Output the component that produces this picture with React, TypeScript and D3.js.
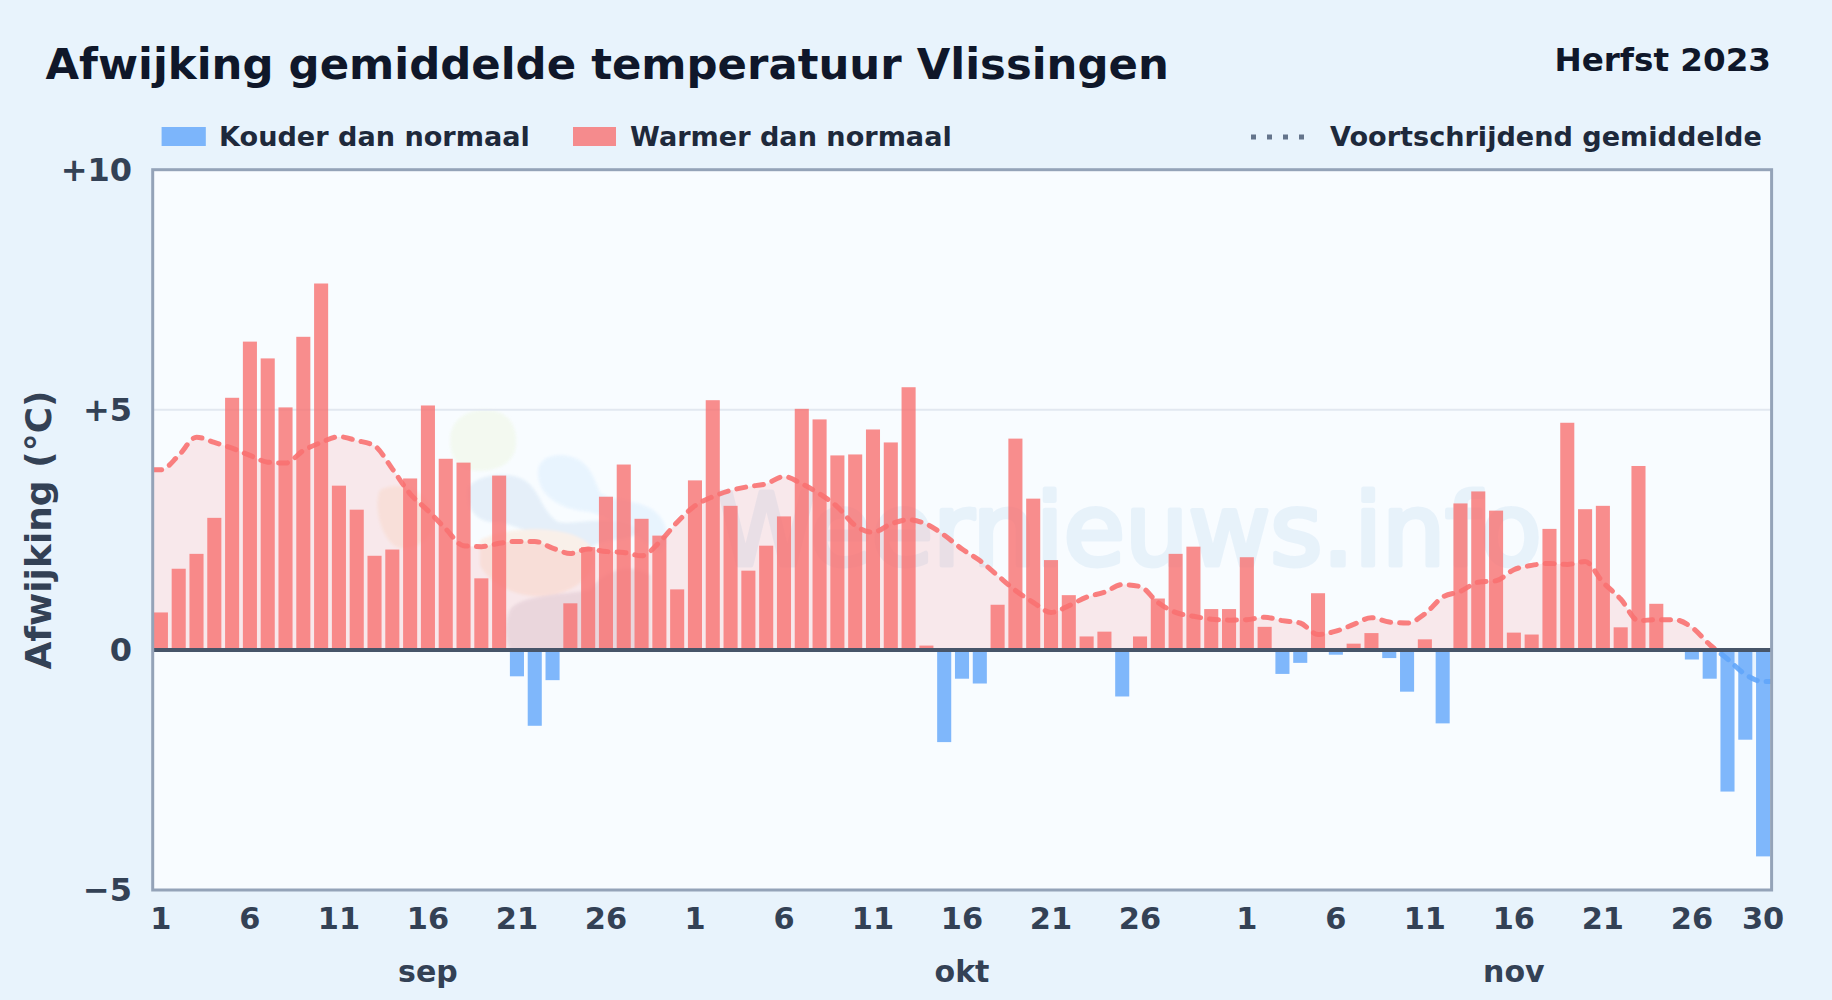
import React from "react";
import * as d3 from "d3";

const W = 1832, H = 1000;
const months = ["sep", "okt", "nov"];
const monthLengths = [30, 31, 30];
const tickDays = [1, 6, 11, 16, 21, 26];
const yTicks = [10, 5, 0, -5];

const sepValues = [0.78, 1.69, 2.0, 2.75, 5.25, 6.42, 6.07, 5.05, 6.52, 7.63, 3.42, 2.92, 1.96, 2.09, 3.57, 5.09, 3.98, 3.9, 1.49, 3.63, -0.55, -1.58, -0.63, 0.97, 2.14, 3.19, 3.86, 2.73, 2.38, 1.26];
const oktValues = [3.53, 5.2, 3.0, 1.65, 2.17, 2.78, 5.02, 4.8, 4.05, 4.07, 4.59, 4.32, 5.47, 0.09, -1.92, -0.6, -0.7, 0.94, 4.4, 3.15, 1.87, 1.14, 0.28, 0.38, -0.97, 0.28, 1.07, 2.0, 2.15, 0.85, 0.85];
const novValues = [1.93, 0.48, -0.5, -0.27, 1.18, -0.1, 0.13, 0.35, -0.17, -0.87, 0.22, -1.53, 3.05, 3.3, 2.9, 0.36, 0.32, 2.52, 4.73, 2.93, 3.0, 0.47, 3.83, 0.96, 0, -0.2, -0.6, -2.95, -1.87, -4.3];

const sepAvg = [3.75, 4.05, 4.43, 4.32, 4.2, 4.05, 3.91, 3.89, 4.15, 4.32, 4.44, 4.36, 4.25, 3.77, 3.25, 2.9, 2.52, 2.17, 2.15, 2.22, 2.26, 2.26, 2.12, 2.01, 2.1, 2.05, 2.03, 1.96, 2.24, 2.66];
const oktAvg = [3.0, 3.19, 3.32, 3.4, 3.46, 3.61, 3.46, 3.25, 2.98, 2.59, 2.45, 2.62, 2.71, 2.62, 2.39, 2.1, 1.86, 1.55, 1.24, 0.99, 0.78, 0.92, 1.1, 1.2, 1.36, 1.32, 0.99, 0.78, 0.7, 0.64, 0.62];
const novAvg = [0.63, 0.68, 0.61, 0.56, 0.32, 0.39, 0.53, 0.67, 0.58, 0.56, 0.75, 1.1, 1.22, 1.41, 1.44, 1.67, 1.76, 1.8, 1.78, 1.84, 1.41, 1.06, 0.61, 0.63, 0.63, 0.47, 0.11, -0.19, -0.51, -0.66];

const values = [...sepValues, ...oktValues, ...novValues];
const averages = [...sepAvg, ...oktAvg, ...novAvg];

const FONT = "'DejaVu Sans', sans-serif";
const plot = { left: 152.7, right: 1771.6, top: 169.7, bottom: 890 };

const x = d3.scaleBand<number>().domain(d3.range(values.length)).range([152, 1772]).paddingInner(0.21).paddingOuter(0.105);
const y = d3.scaleLinear().domain([-5, 10]).range([plot.bottom, plot.top]);
const cx = (i: number) => (x(i) as number) + x.bandwidth() / 2;

const indices = d3.range(averages.length);
const pts: [number, number][] = [
  [plot.left, y(averages[0])],
  ...indices.map((i): [number, number] => [cx(i), y(averages[i])]),
  [plot.right, y(averages[averages.length - 1])],
];
const lineGen = d3.line().curve(d3.curveMonotoneX);
const areaGen = d3.area<[number, number]>().x((d) => d[0]).y0(y(0)).y1((d) => d[1]).curve(d3.curveMonotoneX);

function monthOffset(m: number) {
  return d3.sum(monthLengths.slice(0, m));
}

const xTicks: { i: number; label: string }[] = [];
monthLengths.forEach((len, m) => {
  tickDays.forEach((d) => xTicks.push({ i: monthOffset(m) + d - 1, label: String(d) }));
});
xTicks.push({ i: values.length - 1, label: "30" });

function Logo() {
  return (
    <g filter="url(#soft)" opacity={0.95}>
      <path d="M450 440 C450 418 470 408 490 410 C510 412 518 428 516 446 C514 466 490 474 470 470 C456 466 450 456 450 440 Z" fill="#f3f9f0" />
      <path d="M538 470 C540 455 560 452 575 458 C590 464 594 478 600 492 C606 500 630 498 650 508 C668 518 672 540 660 552 C640 540 620 520 590 512 C560 510 536 495 538 470 Z" fill="#e8f4fe" />
      <path d="M468 490 C470 478 500 470 520 478 C540 486 540 510 558 522 C580 526 610 512 640 530 C630 545 600 535 590 550 C560 548 530 530 500 522 C478 525 466 510 468 490 Z" fill="#e4eff9" />
      <path d="M480 540 C510 525 570 525 590 545 C600 565 585 590 550 595 C520 600 490 585 480 565 Z" fill="#faf0e8" />
      <path d="M380 490 C400 480 425 490 432 510 C438 535 420 550 400 548 C384 545 372 510 380 490 Z" fill="#f9f2ea" />
      <path d="M510 610 C520 595 560 595 590 590 C600 575 625 560 650 575 L650 650 L510 650 C505 640 505 620 510 610 Z" fill="#e8e6ee" />
    </g>
  );
}

export default function App() {
  const line = lineGen(pts) as string;
  const area = areaGen(pts) as string;
  return (
    <svg width={W} height={H} viewBox={`0 0 ${W} ${H}`} style={{ position: "absolute", left: 0, top: 0, display: "block" }} fontFamily={FONT} fontWeight={700}>
      <defs>
        <filter id="soft" x="-10%" y="-10%" width="120%" height="120%">
          <feGaussianBlur stdDeviation="1.5" />
        </filter>
        <clipPath id="plotClip">
          <rect x={plot.left} y={plot.top} width={plot.right - plot.left} height={plot.bottom - plot.top} />
        </clipPath>
        <clipPath id="above">
          <rect x={plot.left} y={plot.top} width={plot.right - plot.left} height={y(0) - plot.top} />
        </clipPath>
        <clipPath id="below">
          <rect x={plot.left} y={y(0)} width={plot.right - plot.left} height={plot.bottom - y(0)} />
        </clipPath>
      </defs>
      <rect width={W} height={H} fill="#e8f3fc" />
      <rect x={plot.left} y={plot.top} width={plot.right - plot.left} height={plot.bottom - plot.top} fill="#f8fcff" />

      <g clipPath="url(#plotClip)">
        <Logo />
        <g opacity={0.075}>
          <text x={717} y={565} fontSize={100} fontWeight={400} fill="#2b7fc9" stroke="#2b7fc9" strokeWidth={5} strokeLinejoin="round">Weernieuws.info</text>
        </g>
      </g>

      <line x1={plot.left} x2={plot.right} y1={y(5)} y2={y(5)} stroke="#e2e8f0" strokeWidth={2} />

      <path d={area} fill="#f87171" fillOpacity={0.14} clipPath="url(#above)" />
      <path d={area} fill="#60a5fa" fillOpacity={0.1} clipPath="url(#below)" />

      {values.map((v, i) => (
        <rect key={i} x={x(i)} width={x.bandwidth()} y={v >= 0 ? y(v) : y(0)} height={Math.abs(y(v) - y(0))} fill={v >= 0 ? "#f87171" : "#60a5fa"} fillOpacity={0.8} />
      ))}

      <path d={line} fill="none" stroke="#f87171" strokeWidth={5} strokeDasharray="9 9" strokeLinecap="round" clipPath="url(#above)" opacity={0.9} />
      <path d={line} fill="none" stroke="#60a5fa" strokeWidth={5} strokeDasharray="9 9" strokeLinecap="round" clipPath="url(#below)" opacity={0.9} />

      <line x1={plot.left} x2={plot.right} y1={y(0)} y2={y(0)} stroke="#475569" strokeWidth={4} />
      <rect x={plot.left} y={plot.top} width={plot.right - plot.left} height={plot.bottom - plot.top} fill="none" stroke="#94a3b8" strokeWidth={3} />

      <text x={45.5} y={79} fontSize={43.4} fill="#0f172a">Afwijking gemiddelde temperatuur Vlissingen</text>
      <text x={1771} y={70.5} fontSize={32.6} fill="#0f172a" textAnchor="end">Herfst 2023</text>

      <rect x={161.6} y={127} width={44.2} height={19} fill="#60a5fa" fillOpacity={0.8} />
      <text x={219} y={146} fontSize={27.1} fill="#1e293b">Kouder dan normaal</text>
      <rect x={573} y={127} width={43} height={19} fill="#f87171" fillOpacity={0.8} />
      <text x={630} y={146} fontSize={27.1} fill="#1e293b">Warmer dan normaal</text>
      <line x1={1251} x2={1310} y1={137} y2={137} stroke="#64748b" strokeWidth={5} strokeDasharray="5 11" />
      <text x={1330} y={146} fontSize={27.1} fill="#1e293b">Voortschrijdend gemiddelde</text>

      {yTicks.map((t) => (
        <text key={t} x={132} y={y(t) + 11} fontSize={32} fill="#334155" textAnchor="end">
          {t > 0 ? `+${t}` : t < 0 ? `−${Math.abs(t)}` : "0"}
        </text>
      ))}
      {xTicks.map((t) => (
        <text key={`${t.i}`} x={cx(t.i)} y={929} fontSize={30.4} fill="#334155" textAnchor="middle">{t.label}</text>
      ))}
      {months.map((m, k) => (
        <text key={m} x={cx(monthOffset(k) + 15)} y={982} fontSize={30} fill="#334155" textAnchor="middle">{m}</text>
      ))}
      <text transform="translate(51,530) rotate(-90)" fontSize={36} fill="#334155" textAnchor="middle">Afwijking (°C)</text>
    </svg>
  );
}
